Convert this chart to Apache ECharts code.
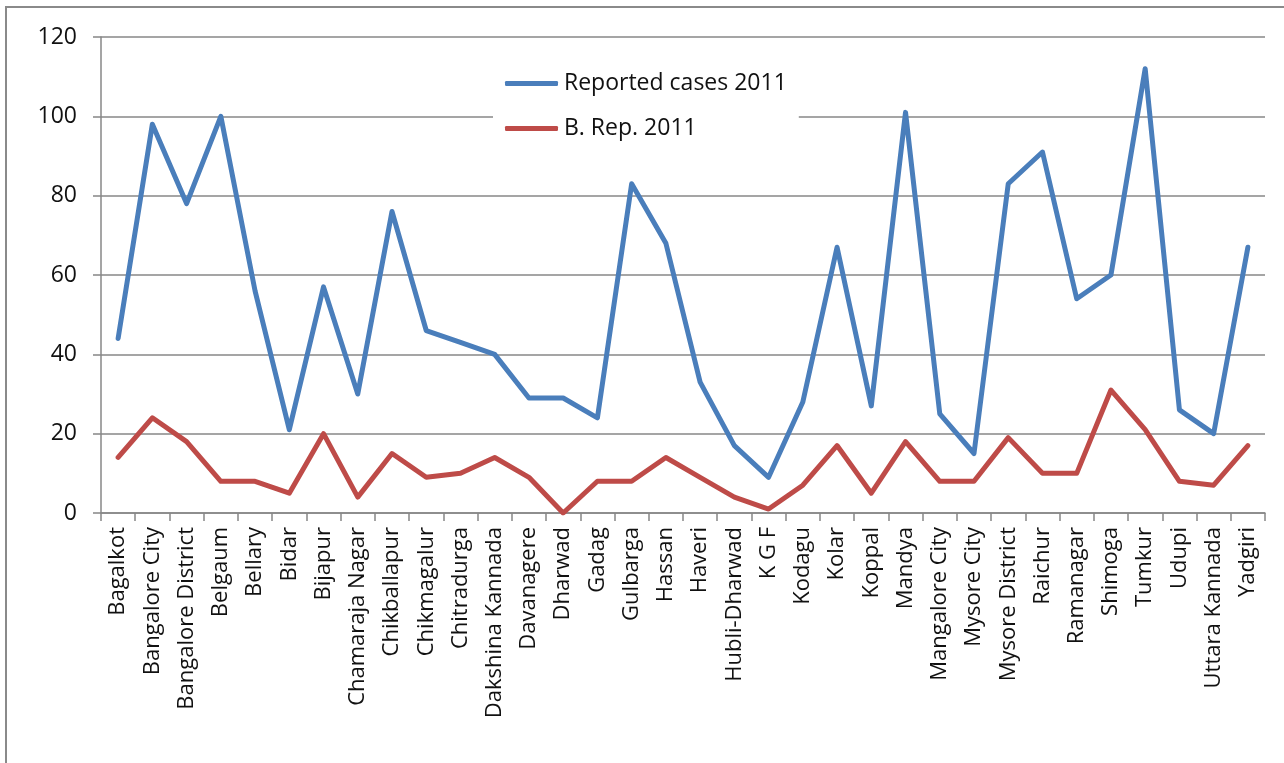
<!DOCTYPE html>
<html>
<head>
<meta charset="utf-8">
<script src="https://cdn.jsdelivr.net/npm/echarts@6/dist/echarts.min.js"></script>
<style>
  html, body { margin: 0; padding: 0; background: #fff; }
  #chart { width: 1284px; height: 763px; }
</style>
</head>
<body>
<div id="chart"></div>
<script>
// Districts of Karnataka, in axis order
const districts = [
  'Bagalkot', 'Bangalore City', 'Bangalore District', 'Belgaum', 'Bellary',
  'Bidar', 'Bijapur', 'Chamaraja Nagar', 'Chikballapur', 'Chikmagalur',
  'Chitradurga', 'Dakshina Kannada', 'Davanagere', 'Dharwad', 'Gadag',
  'Gulbarga', 'Hassan', 'Haveri', 'Hubli-Dharwad', 'K G F', 'Kodagu',
  'Kolar', 'Koppal', 'Mandya', 'Mangalore City', 'Mysore City',
  'Mysore District', 'Raichur', 'Ramanagar', 'Shimoga', 'Tumkur', 'Udupi',
  'Uttara Kannada', 'Yadgiri'
];

// Reported cases 2011
const reportedCases = [
  44, 98, 78, 100, 56, 21, 57, 30, 76, 46,
  43, 40, 29, 29, 24, 83, 68, 33, 17, 9, 28,
  67, 27, 101, 25, 15, 83, 91, 54, 60, 112, 26,
  20, 67
];

// B. Rep. 2011
const bRep = [
  14, 24, 18, 8, 8, 5, 20, 4, 15, 9,
  10, 14, 9, 0, 8, 8, 14, 9, 4, 1, 7,
  17, 5, 18, 8, 8, 19, 10, 10, 31, 21, 8,
  7, 17
];

// Value axis ticks
const yTicks = { min: 0, max: 120, interval: 20 };

const seriesNames = ['Reported cases 2011', 'B. Rep. 2011'];

const FONT = '"Open Sans", Lato, sans-serif';
const chart = echarts.init(document.getElementById('chart'), null, { renderer: 'canvas' });

chart.setOption({
  animation: false,
  backgroundColor: '#fff',
  textStyle: { fontFamily: FONT },
  grid: { left: 101, right: 19, top: 37, bottom: 250, containLabel: false },
  graphic: [{
    type: 'rect',
    shape: { x: 6, y: 7, width: 1400, height: 900 },
    style: { fill: 'none', stroke: '#8a8a8a', lineWidth: 2 },
    silent: true
  }],
  legend: {
    orient: 'vertical',
    left: 493,
    top: 63,
    padding: [8, 12, 8, 12],
    backgroundColor: '#fff',
    itemWidth: 53,
    itemHeight: 5,
    itemGap: 20,
    icon: 'roundRect',
    textStyle: { fontFamily: FONT, fontSize: 23, color: '#111', lineHeight: 25, padding: [0, 0, 0, 1] },
    data: seriesNames
  },
  xAxis: {
    type: 'category',
    data: districts,
    boundaryGap: true,
    axisLine: { lineStyle: { color: '#878787', width: 1.5 } },
    axisTick: { show: true, length: 8, interval: 0, lineStyle: { color: '#878787', width: 1.5 } },
    axisLabel: {
      interval: 0,
      rotate: 90,
      margin: 14,
      fontFamily: FONT,
      fontSize: 22,
      color: '#111'
    },
    splitLine: { show: false }
  },
  yAxis: {
    type: 'value',
    min: yTicks.min,
    max: yTicks.max,
    interval: yTicks.interval,
    axisLine: { show: true, lineStyle: { color: '#878787', width: 1.5 } },
    axisTick: { show: true, length: 8, lineStyle: { color: '#878787', width: 1.5 } },
    axisLabel: { margin: 24, fontFamily: FONT, fontSize: 23, color: '#111' },
    splitLine: { show: true, lineStyle: { color: '#878787', width: 1.5 } }
  },
  series: [
    {
      name: seriesNames[0],
      type: 'line',
      data: reportedCases,
      symbol: 'none',
      color: '#4A7EBB',
      lineStyle: { color: '#4A7EBB', width: 5, join: 'round', cap: 'round' },
      z: 3
    },
    {
      name: seriesNames[1],
      type: 'line',
      data: bRep,
      symbol: 'none',
      color: '#BE4B48',
      lineStyle: { color: '#BE4B48', width: 5, join: 'round', cap: 'round' },
      z: 2
    }
  ]
});
</script>
</body>
</html>
